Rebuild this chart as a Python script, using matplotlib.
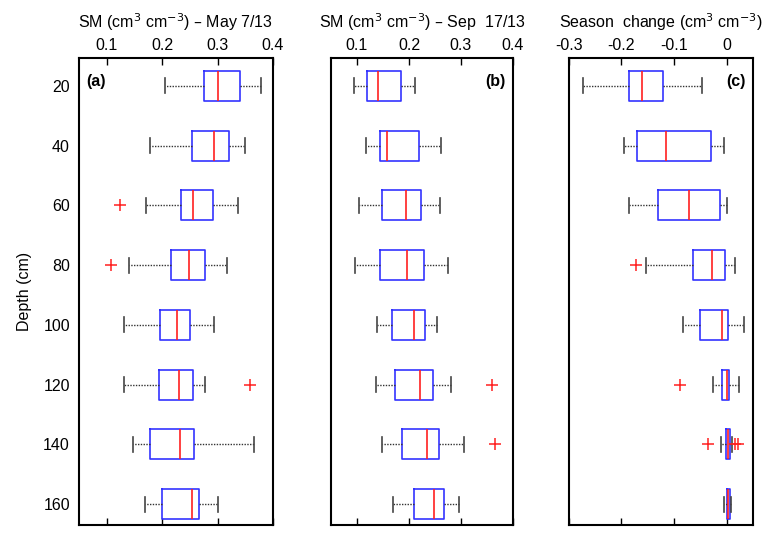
import matplotlib
matplotlib.use('Agg')
import matplotlib.pyplot as plt

plt.rcParams['font.family'] = ['Liberation Sans', 'DejaVu Sans']
plt.rcParams['axes.unicode_minus'] = False

depths = [20, 40, 60, 80, 100, 120, 140, 160]

# (a) SM May 7/13
may_lo = [0.205, 0.179, 0.171, 0.141, 0.131, 0.131, 0.147, 0.170]
may_q1 = [0.276, 0.253, 0.234, 0.216, 0.196, 0.195, 0.178, 0.200]
may_med = [0.300, 0.293, 0.255, 0.249, 0.226, 0.231, 0.232, 0.253]
may_q3 = [0.340, 0.321, 0.291, 0.277, 0.250, 0.256, 0.257, 0.266]
may_hi = [0.378, 0.350, 0.336, 0.317, 0.293, 0.278, 0.366, 0.301]
may_out = [[], [], [0.124], [0.108], [], [0.358], [], []]

# (b) SM Sep 17/13
sep_lo = [0.095, 0.118, 0.104, 0.097, 0.138, 0.137, 0.149, 0.170]
sep_q1 = [0.119, 0.144, 0.149, 0.145, 0.168, 0.174, 0.186, 0.209]
sep_med = [0.140, 0.158, 0.195, 0.197, 0.209, 0.222, 0.234, 0.249]
sep_q3 = [0.184, 0.220, 0.224, 0.228, 0.231, 0.247, 0.257, 0.268]
sep_hi = [0.211, 0.261, 0.260, 0.275, 0.254, 0.280, 0.306, 0.297]
sep_out = [[], [], [], [], [], [0.359], [0.366], []]

# (c) season change
chg_lo = [-0.272, -0.195, -0.185, -0.154, -0.083, -0.026, -0.011, -0.006]
chg_q1 = [-0.185, -0.170, -0.131, -0.064, -0.050, -0.009, -0.001, 0.000]
chg_med = [-0.161, -0.115, -0.071, -0.028, -0.009, 0.001, 0.003, 0.003]
chg_q3 = [-0.121, -0.030, -0.013, -0.004, 0.002, 0.005, 0.006, 0.006]
chg_hi = [-0.046, -0.006, 0.001, 0.016, 0.032, 0.023, 0.010, 0.009]
chg_out = [[], [], [], [-0.172], [], [-0.089], [-0.035, 0.016, 0.021], []]

titles = ['SM (cm$^3$ cm$^{-3}$) – May 7/13',
          'SM (cm$^3$ cm$^{-3}$) – Sep  17/13',
          'Season  change (cm$^3$ cm$^{-3}$)']
panel_tags = ['(a)', '(b)', '(c)']
xticks_sm = [0.1, 0.2, 0.3, 0.4]
xticklabels_sm = ['0.1', '0.2', '0.3', '0.4']
xticks_chg = [-0.3, -0.2, -0.1, 0]
xticklabels_chg = ['-0.3', '-0.2', '-0.1', '0']


def make_stats(lo, q1, med, q3, hi, out):
    stats = []
    for i in range(len(lo)):
        stats.append(dict(whislo=lo[i], q1=q1[i], med=med[i], q3=q3[i],
                          whishi=hi[i], fliers=out[i]))
    return stats


fig = plt.figure(figsize=(7.63, 5.36), dpi=100)
positions = [
    [0.1035, 0.0205, 0.2543, 0.8722],
    [0.4338, 0.0205, 0.2385, 0.8722],
    [0.7453, 0.0205, 0.2416, 0.8722],
]
data = [
    (may_lo, may_q1, may_med, may_q3, may_hi, may_out),
    (sep_lo, sep_q1, sep_med, sep_q3, sep_hi, sep_out),
    (chg_lo, chg_q1, chg_med, chg_q3, chg_hi, chg_out),
]
xlims = [(0.05, 0.4), (0.05, 0.4), (-0.3, 0.05)]

for k in range(3):
    ax = fig.add_axes(positions[k])
    stats = make_stats(*data[k])
    ax.bxp(stats, positions=depths, widths=10, vert=False,
           boxprops=dict(color='#3333ff', lw=1.2),
           medianprops=dict(color='#ff2020', lw=1.2),
           whiskerprops=dict(color='#333333', lw=1, linestyle=(0, (1, 1))),
           capprops=dict(color='#444444', lw=1.2),
           flierprops=dict(marker='+', markeredgecolor='#ff2020',
                           markersize=9, markeredgewidth=1.1, linestyle='none'))
    ax.set_xlim(*xlims[k])
    ax.set_ylim(167, 10.5)
    if k < 2:
        ax.set_xticks(xticks_sm)
        ax.set_xticklabels(xticklabels_sm)
    else:
        ax.set_xticks(xticks_chg)
        ax.set_xticklabels(xticklabels_chg)
    ax.xaxis.set_ticks_position('both')
    ax.xaxis.set_label_position('top')
    ax.tick_params(axis='x', direction='in', length=5, width=1,
                   labeltop=True, labelbottom=False, labelsize=11.5, pad=3.5)
    ax.set_yticks(depths)
    if k == 0:
        ax.set_yticklabels([str(d) for d in depths])
        ax.set_ylabel('Depth (cm)', fontsize=11.5, labelpad=8)
    else:
        ax.set_yticklabels([])
    ax.tick_params(axis='y', length=0, labelsize=11.5, pad=6.5)
    for sp in ax.spines.values():
        sp.set_linewidth(1.5)
    ax.set_xlabel(titles[k], fontsize=11.5, labelpad=7)
    if k == 0:
        ax.text(0.04, 0.965, panel_tags[k], transform=ax.transAxes,
                fontsize=11.5, fontweight='bold', ha='left', va='top')
    else:
        ax.text(0.96, 0.965, panel_tags[k], transform=ax.transAxes,
                fontsize=11.5, fontweight='bold', ha='right', va='top')

plt.savefig('out.png', dpi=100)
